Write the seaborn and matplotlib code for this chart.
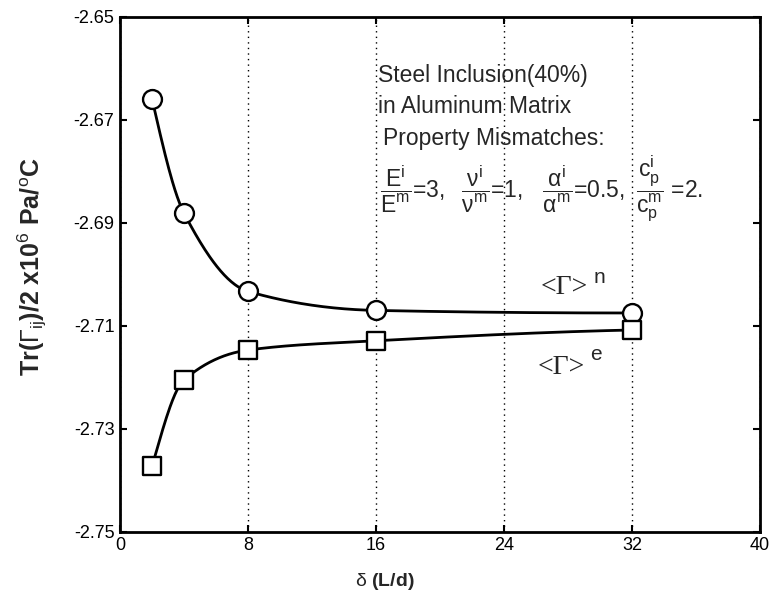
import numpy as np
import pandas as pd
import matplotlib
matplotlib.use("Agg")
import matplotlib.pyplot as plt
import seaborn as sns

# ---- data ----
delta = [2, 4, 8, 16, 32]
gamma_n = [-2.6659, -2.6881, -2.7033, -2.7070, -2.7075]
gamma_e = [-2.7373, -2.7205, -2.7147, -2.7129, -2.7108]
x_ticks = [0, 8, 16, 24, 32, 40]
y_ticks = [-2.75, -2.73, -2.71, -2.69, -2.67, -2.65]
y_tick_labels = ["-2.75", "-2.73", "-2.71", "-2.69", "-2.67", "-2.65"]

sns.set_theme(style="white")
plt.rcParams["font.family"] = ["Liberation Sans", "DejaVu Sans"]
plt.rcParams["mathtext.fontset"] = "custom"
plt.rcParams["mathtext.rm"] = "Liberation Sans"
plt.rcParams["mathtext.it"] = "Liberation Sans"
plt.rcParams["mathtext.bf"] = "Liberation Sans:bold"
plt.rcParams["mathtext.sf"] = "Liberation Sans"


def pchip(x, y, xs):
    x = np.asarray(x, float)
    y = np.asarray(y, float)
    h = np.diff(x)
    d = np.diff(y) / h
    n = len(x)
    m = np.zeros(n)
    for k in range(1, n - 1):
        if d[k - 1] * d[k] > 0:
            w1 = 2 * h[k] + h[k - 1]
            w2 = h[k] + 2 * h[k - 1]
            m[k] = (w1 + w2) / (w1 / d[k - 1] + w2 / d[k])
    m[0] = ((2 * h[0] + h[1]) * d[0] - h[0] * d[1]) / (h[0] + h[1])
    if np.sign(m[0]) != np.sign(d[0]):
        m[0] = 0
    m[-1] = ((2 * h[-1] + h[-2]) * d[-1] - h[-1] * d[-2]) / (h[-1] + h[-2])
    if np.sign(m[-1]) != np.sign(d[-1]):
        m[-1] = 0
    idx = np.clip(np.searchsorted(x, xs) - 1, 0, n - 2)
    t = (xs - x[idx]) / h[idx]
    h00 = 2 * t**3 - 3 * t**2 + 1
    h10 = t**3 - 2 * t**2 + t
    h01 = -2 * t**3 + 3 * t**2
    h11 = t**3 - t**2
    return (h00 * y[idx] + h10 * h[idx] * m[idx] + h01 * y[idx + 1]
            + h11 * h[idx] * m[idx + 1])


fig = plt.figure(figsize=(7.74, 6.01), dpi=100)
ax = fig.add_axes([0.155, 0.115, 0.827, 0.857])

xs = np.linspace(min(delta), max(delta), 400)
curves = pd.DataFrame({
    "delta": np.concatenate([xs, xs]),
    "value": np.concatenate([pchip(delta, gamma_n, xs), pchip(delta, gamma_e, xs)]),
    "series": ["n"] * len(xs) + ["e"] * len(xs),
})
sns.lineplot(data=curves, x="delta", y="value", units="series", estimator=None,
             color="black", linewidth=2.0, ax=ax, legend=False)

pts_n = pd.DataFrame({"delta": delta, "value": gamma_n})
pts_e = pd.DataFrame({"delta": delta, "value": gamma_e})
sns.scatterplot(data=pts_n, x="delta", y="value", marker="o", s=185,
                facecolors="white", edgecolor="black", linewidth=1.7, ax=ax, zorder=3)
sns.scatterplot(data=pts_e, x="delta", y="value", marker="s", s=150,
                facecolors="white", edgecolor="black", linewidth=1.7, ax=ax, zorder=3)

ax.set_xlim(0, 40)
ax.set_ylim(-2.75, -2.65)
ax.set_xticks(x_ticks)
ax.set_yticks(y_ticks)
ax.set_yticklabels(y_tick_labels)
ax.tick_params(axis="both", direction="in", length=5, width=1.5, labelsize=13,
               colors="black", top=True, right=True, left=True, bottom=True, pad=4)
ax.xaxis.grid(True, linestyle=(0, (1, 3)), color="black", linewidth=1.0)
ax.yaxis.grid(False)
for sp in ax.spines.values():
    sp.set_color("black")
    sp.set_linewidth(2.0)
ax.set_xlabel("")
ax.set_ylabel("")

fig.text(0.042, 0.557, r"Tr($\Gamma_{\mathrm{ij}}$)/2 x10$^{6}$ Pa/$^{o}$C",
         rotation=90, ha="center", va="center", fontsize=18, fontweight="bold")
fig.text(0.497, 0.033, r"$\delta$ (L/d)", ha="center", va="center",
         fontsize=14, fontweight="bold")

fs = 16.5
W = 774.0
fig.text(378 / W, 0.875, "Steel Inclusion(40%)", ha="left", va="center", fontsize=fs)
fig.text(378 / W, 0.8236, "in Aluminum Matrix", ha="left", va="center", fontsize=fs)
fig.text(383 / W, 0.770, "Property Mismatches:", ha="left", va="center", fontsize=fs)
fy = 0.6855
fig.text(380 / W, fy, r"$\dfrac{\mathrm{E}^{\mathrm{i}}}{\mathrm{E}^{\mathrm{m}}}$=3,",
         ha="left", va="center", fontsize=fs)
fig.text(461 / W, fy, r"$\dfrac{\nu^{\mathrm{i}}}{\nu^{\mathrm{m}}}$=1,",
         ha="left", va="center", fontsize=fs)
fig.text(542 / W, fy, r"$\dfrac{\alpha^{\mathrm{i}}}{\alpha^{\mathrm{m}}}$=0.5,",
         ha="left", va="center", fontsize=fs)
fig.text(636 / W, fy,
         r"$\dfrac{\mathrm{c}_{\mathrm{p}}^{\mathrm{i}}}{\mathrm{c}_{\mathrm{p}}^{\mathrm{m}}}$ =2.",
         ha="left", va="center", fontsize=fs)

fig.text(0.698, 0.521, "<Γ>", ha="left", va="center", fontsize=20,
         family=["Liberation Serif", "DejaVu Serif"])
fig.text(0.767, 0.539, "n", ha="left", va="center", fontsize=15)
fig.text(0.694, 0.389, "<Γ>", ha="left", va="center", fontsize=20,
         family=["Liberation Serif", "DejaVu Serif"])
fig.text(0.763, 0.410, "e", ha="left", va="center", fontsize=15)

fig.savefig("out.png", dpi=100)
